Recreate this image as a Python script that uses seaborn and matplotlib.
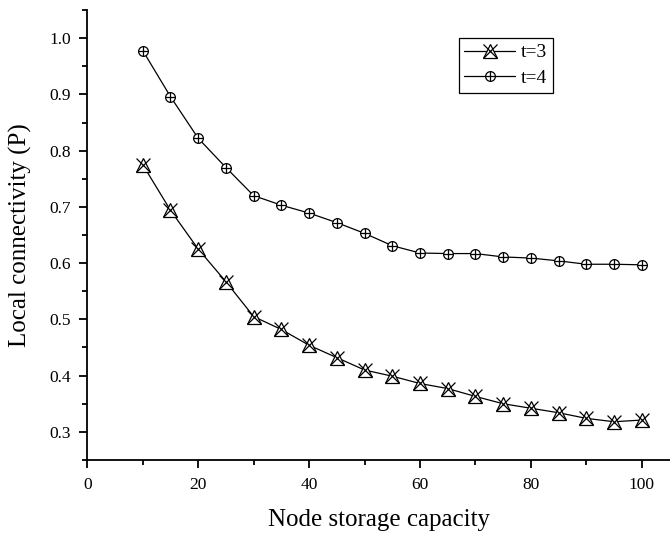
import matplotlib
matplotlib.use("Agg")
import matplotlib.pyplot as plt
from matplotlib.lines import Line2D
from matplotlib.ticker import MultipleLocator
import seaborn as sns
import pandas as pd

capacity = [10, 15, 20, 25, 30, 35, 40, 45, 50, 55, 60, 65, 70, 75, 80, 85, 90, 95, 100]
t3 = [0.775, 0.694, 0.625, 0.567, 0.505, 0.482, 0.454, 0.432, 0.410, 0.399,
      0.386, 0.377, 0.363, 0.350, 0.342, 0.334, 0.324, 0.318, 0.321]
t4 = [0.978, 0.896, 0.822, 0.770, 0.720, 0.703, 0.689, 0.672, 0.653, 0.631,
      0.618, 0.617, 0.617, 0.611, 0.609, 0.604, 0.598, 0.598, 0.597]
labels = ["t=3", "t=4"]

sns.set_style("ticks")
plt.rcParams["font.family"] = ["Liberation Serif", "DejaVu Serif"]
plt.rcParams["text.color"] = "black"
plt.rcParams["axes.labelcolor"] = "black"
plt.rcParams["xtick.color"] = "black"
plt.rcParams["ytick.color"] = "black"

fig = plt.figure(figsize=(6.7, 5.39), dpi=100)
ax = fig.add_axes([0.1303, 0.1466, 0.8697, 0.8348])

df3 = pd.DataFrame({"x": capacity, "y": t3})
df4 = pd.DataFrame({"x": capacity, "y": t4})

lw = 0.9
mew = 0.9
sns.lineplot(data=df3, x="x", y="y", ax=ax, color="black", linewidth=lw,
             marker="^", markersize=10, markerfacecolor="white",
             markeredgecolor="black", markeredgewidth=mew, zorder=2)
sns.scatterplot(data=df3, x="x", y="y", ax=ax, color="black", marker="x",
                s=100, linewidth=mew, zorder=3)
sns.lineplot(data=df4, x="x", y="y", ax=ax, color="black", linewidth=lw,
             marker="o", markersize=7, markerfacecolor="white",
             markeredgecolor="black", markeredgewidth=mew, zorder=2)
sns.scatterplot(data=df4, x="x", y="y", ax=ax, color="black", marker="+",
                s=49, linewidth=mew, zorder=3)

ax.set_xlim(0, 105.1)
ax.set_ylim(0.25, 1.05)
ax.xaxis.set_major_locator(MultipleLocator(20))
ax.xaxis.set_minor_locator(MultipleLocator(10))
ax.yaxis.set_minor_locator(MultipleLocator(0.05))
ax.set_yticks([0.3, 0.4, 0.5, 0.6, 0.7, 0.8, 0.9, 1.0])
ax.set_yticklabels(["0.3", "0.4", "0.5", "0.6", "0.7", "0.8", "0.9", "1.0"])

for s in ["top", "right"]:
    ax.spines[s].set_visible(False)
for s in ["left", "bottom"]:
    ax.spines[s].set_linewidth(1.3)
    ax.spines[s].set_color("black")
ax.tick_params(which="major", direction="out", length=6, width=1.3,
               labelsize=12.5, colors="black", pad=6)
ax.tick_params(which="minor", direction="out", length=3.5, width=1.3,
               colors="black")

ax.set_xlabel("Node storage capacity", fontsize=18, labelpad=12, color="black")
ax.set_ylabel("Local connectivity (P)", fontsize=18, labelpad=12, color="black")

h3 = (Line2D([], [], color="black", linewidth=lw, marker="^", markersize=10,
             markerfacecolor="white", markeredgewidth=mew),
      Line2D([], [], color="black", linestyle="", marker="x", markersize=10,
             markeredgewidth=mew))
h4 = (Line2D([], [], color="black", linewidth=lw, marker="o", markersize=7,
             markerfacecolor="white", markeredgewidth=mew),
      Line2D([], [], color="black", linestyle="", marker="+", markersize=7,
             markeredgewidth=mew))
leg = ax.legend([h3, h4], labels, loc="upper right",
                bbox_to_anchor=(0.799, 0.938), fontsize=14, frameon=True,
                fancybox=False, edgecolor="black", framealpha=1,
                numpoints=1, handlelength=2.6, borderpad=0.3,
                labelspacing=0.4, handletextpad=0.3, borderaxespad=0)
leg.get_frame().set_linewidth(0.9)
for t in leg.get_texts():
    t.set_color("black")

fig.savefig("out.png", dpi=100)
